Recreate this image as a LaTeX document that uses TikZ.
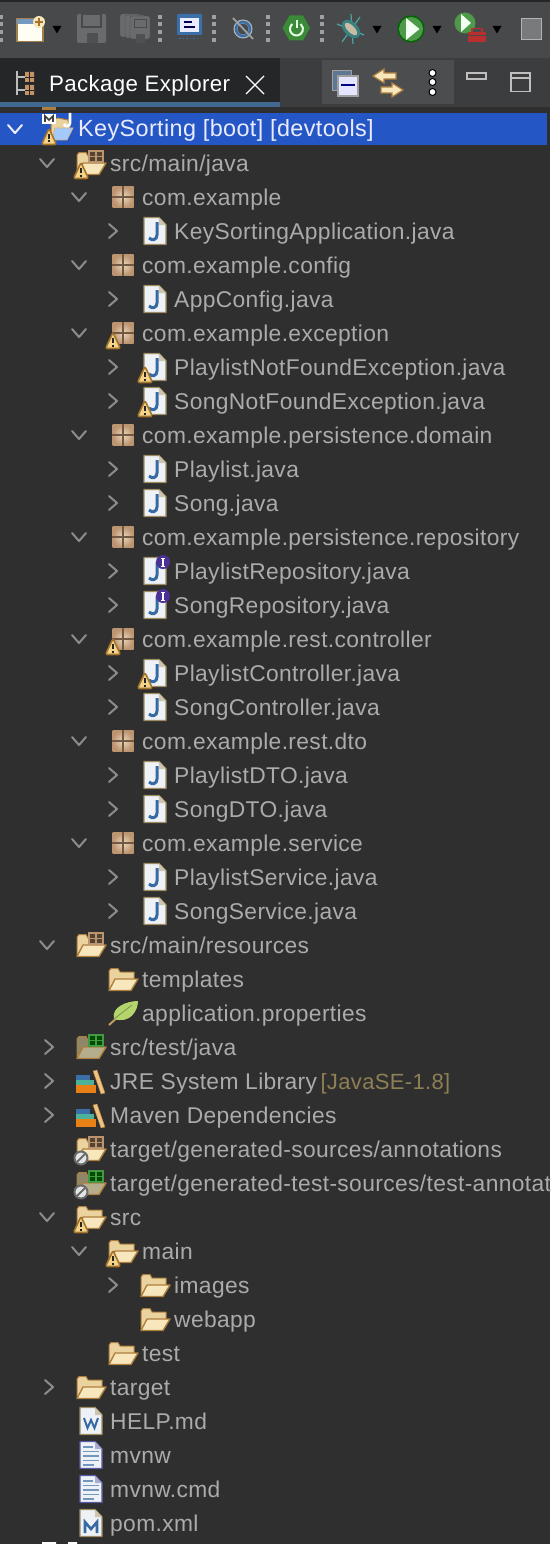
\documentclass[tikz,border=0pt]{standalone}
\usepackage{fontspec}
\setmainfont[LetterSpace=1.6]{Liberation Sans}
\usetikzlibrary{positioning,shapes.geometric}
\definecolor{treebg}{HTML}{2F2F2F}
\definecolor{barbg}{HTML}{47494B}
\definecolor{stripbg}{HTML}{3C3D3F}
\definecolor{panelbg}{HTML}{4B4D4F}
\definecolor{tabbg}{HTML}{252628}
\definecolor{tabline}{HTML}{41688F}
\definecolor{selblue}{HTML}{2457C5}
\definecolor{rowtext}{HTML}{ABABAB}
\definecolor{libtext}{HTML}{8F7F55}
\definecolor{chevcol}{HTML}{8C8C8C}
\definecolor{fldedge}{HTML}{AE7F3E}
\definecolor{fldback}{HTML}{EBD3A0}
\definecolor{fldfront}{HTML}{F8E6BC}
\definecolor{fldgback}{HTML}{8F8768}
\definecolor{fldgfront}{HTML}{B5AD8C}
\definecolor{pkgtan}{HTML}{BC9470}
\definecolor{pkggap}{HTML}{EBD8BC}
\definecolor{pageedge}{HTML}{9C8C5F}
\definecolor{pagefill}{HTML}{EEF2F7}
\definecolor{jblue}{HTML}{356AA2}
\definecolor{warnfill}{HTML}{F4D38A}
\definecolor{warnedge}{HTML}{A5742C}
\definecolor{gripcol}{HTML}{A0A0A0}
\definecolor{greyicon}{HTML}{6A6B6D}
\definecolor{leafgreen}{HTML}{B4D46C}
\definecolor{sprgreen}{HTML}{3A8A38}
\definecolor{rungreen}{HTML}{4F9A4A}
\definecolor{toolred}{HTML}{B8302E}
\definecolor{monblue}{HTML}{3A6FA8}
\definecolor{ifacepurple}{HTML}{4B3196}
\newcommand\fldr[2]{
  \path[fill=#1,draw=fldedge,line width=1pt,line join=round] (-14,10) -- (-14,-8) -- (-12,-10.5) -- (-5,-10.5) -- (-3,-7) -- (11,-7) -- (11,3) -- cycle;
  \path[fill=#2,draw=fldedge,line width=1.4pt,line join=round] (-14,11.5) -- (-8,0) -- (15,0) -- (8,11.5) -- cycle;
}
\newcommand\minipkg[2]{
  \fill[#1] (-2,-12) rectangle (12,-1);
  \draw[#2,line width=1.2pt] (-2,-12) rectangle (12,-1) (5,-12) -- (5,-1) (-2,-6.5) -- (12,-6.5);
}
\newcommand\pagebase[1][pageedge]{
  \path[fill=pagefill,draw=#1,line width=1.4pt,line join=round] (-11,-13.5) -- (4,-13.5) -- (11,-6) -- (11,13.5) -- (-11,13.5) -- cycle;
  \path[fill=#1!50] (4,-13.5) -- (4,-6) -- (11,-6) -- cycle;
}
\tikzset{
  rowlabel/.style={anchor=base west,inner sep=0pt,text=rowtext,font=\fontsize{22.8}{26}\selectfont},
  rowstyle0/.style={text=white!92!blue,font=\fontsize{23.4}{26}\selectfont},
  chevline/.style={draw=chevcol,line width=2pt,line cap=round,line join=round},
  grip/.style={fill=gripcol},
  none/.pic={},
  chevd/.pic={\draw[chevline] (-7,-4) -- (0,4) -- (7,-4);},
  chevw/.pic={\draw[chevline,draw=white!92!blue] (-7,-4) -- (0,4) -- (7,-4);},
  chevr/.pic={\draw[chevline] (-2,-7) -- (6,0) -- (-2,7);},
  folder/.pic={\fldr{fldback}{fldfront}},
  srcfolder/.pic={\fldr{fldback}{fldfront}\minipkg{pkgtan!45!black}{pkgtan}},
  testfolder/.pic={\fldr{fldgback}{fldgfront}\minipkg{green!30!black}{green!55!white!60!black}},
  pkgicon/.pic={
    \shade[inner color=pkggap,outer color=pkgtan] (-10.5,-10.5) rectangle (10.5,10.5);
    \draw[pkgtan!60!black,line width=1.3pt] (-11,0) -- (11,0) (0,-11) -- (0,11);
  },
  javaicon/.pic={\pagebase
    \draw[jblue,line width=3pt] (2,-9) -- (2,4) .. controls (2,9) and (-3,10) .. (-6,7);
  },
  texticon/.pic={\pagebase[gray!70!blue]
    \draw[jblue!70!white,line width=1.5pt] (-8,-8) -- (2,-8) (-8,-3.5) -- (8,-3.5) (-8,1) -- (8,1) (-8,5.5) -- (8,5.5) (-8,10) -- (3,10);
  },
  wordicon/.pic={\pagebase
    \draw[jblue,line width=2pt] (-7,-3) -- (-3.5,7) -- (0,-1) -- (3.5,7) -- (7,-3);
  },
  mvnicon/.pic={\pagebase
    \draw[jblue,line width=2.6pt] (-6,10) -- (-6,-1) -- (0,6) -- (6,-1) -- (6,10);
  },
  leaficon/.pic={
    \draw[fldedge!80!white,line width=2pt] (-14,12) -- (-3,2);
    \path[fill=leafgreen] (-9,6) .. controls (-12,-6) and (4,-12) .. (15,-12) .. controls (15,-2) and (7,11) .. (-9,6);
    \draw[leafgreen!70!black,line width=.8pt] (-9,6) -- (9,-8);
  },
  libicon/.pic={
    \fill[monblue] (-15,-6) rectangle (-1,-1);
    \fill[green!25!cyan!40!gray] (-15,-1) rectangle (3,4);
    \fill[orange!65!brown] (-15,4) rectangle (5,12);
    \path[fill=fldback!80!orange,draw=fldedge] (2,-10) -- (6,-11) -- (14,12) -- (10,13) -- cycle;
  },
  rooticon/.pic={
    \path[fill=fldback,draw=fldedge,line width=1pt] (-8,8) -- (-8,-9) -- (-1,-11) -- (9,-9) -- (12,3) -- cycle;
    \path[fill=white!75!blue!85!cyan,draw=fldedge!60!white,line width=.8pt] (-7,11) -- (-4,-1) -- (14,-1) -- (8,11) -- cycle;
    \fill[white] (-17,-15) rectangle (-3,-5);
    \draw[black!75,line width=1.6pt] (-14,-7) -- (-14,-13) -- (-10,-9) -- (-6,-13) -- (-6,-7);
    \draw[white,line width=2.6pt] (11,-16) -- (11,-6) .. controls (11,-2) and (6,-2) .. (5,-5);
  },
  warn/.pic={
    \path[fill=warnfill,draw=warnedge,line width=1.6pt,line join=round,rounded corners=2pt] (0,-8.5) -- (7.5,7.5) -- (-7.5,7.5) -- cycle;
    \draw[black!85,line width=2pt] (0,-3) -- (0,2) (0,3.5) -- (0,5.5);
  },
  stopbadge/.pic={
    \fill[white!90!black] (0,1) circle (6.5);
    \draw[greyicon,line width=2pt] (0,1) circle (6.5);
    \draw[greyicon,line width=2pt] (-4,5) -- (4,-3);
  },
  ibadge/.pic={
    \fill[ifacepurple] (18,-17) circle (7);
    \draw[white,line width=1.6pt] (18,-21) -- (18,-13);
    \draw[white,line width=1pt] (16,-21) -- (20,-21) (16,-13) -- (20,-13);
  },
}
\begin{document}
\begin{tikzpicture}[x=1pt,y=-1pt]
  \clip (0,0) rectangle (550,1544);
  % backgrounds
  \fill[treebg] (0,0) rectangle (550,1544);
  \fill[barbg] (0,0) rectangle (550,58);
  \fill[black!85] (0,0) rectangle (550,2);
  \fill[stripbg] (0,58) rectangle (550,107);
  \fill[tabbg] (0,58) rectangle (280,102);
  \fill[tabline] (0,102) rectangle (280,107);
  \fill[panelbg] (322,60) rectangle (454,104);
  \fill[selblue] (0,113) rectangle (547,145);
  % toolbar
  \foreach \gx in {1,160,214,268,322}
    \foreach \gy in {17,24.5,32,40}
      \fill[grip] (\gx-2,\gy-2) rectangle (\gx+2,\gy+2);
  \foreach \tx in {57,377,437,497}
    \fill[black] (\tx-4.5,26) -- (\tx+4.5,26) -- (\tx,33.5) -- cycle;
  \path[fill=white!95!yellow,draw=fldedge!80!gray,line width=1.5pt] (17,19) rectangle (43,41.5);
  \fill[monblue!70!white] (17,19) rectangle (34,24);
  \fill[fldfront] (39,22) circle (6);
  \draw[warnedge,line width=1.4pt] (39,18) -- (39,26) (35,22) -- (43,22);
  \fill[greyicon,rounded corners=2pt] (77,14) rectangle (106,43);
  \draw[barbg,line width=1.2pt] (82,14) rectangle (101,27);
  \fill[barbg!80!greyicon] (87,33) rectangle (98,43);
  \foreach \sx in {120,125,130}
    \path[fill=greyicon,draw=barbg,rounded corners=2pt] (\sx,\sx/5-10) rectangle (\sx+20,\sx/5+13);
  \draw[barbg,line width=1pt] (134,20) rectangle (146,28);
  \fill[barbg!80!greyicon] (136,34) rectangle (145,43);
  \path[fill=monblue,rounded corners=1pt] (177,14) rectangle (202,35);
  \fill[white!92!blue] (180,18) rectangle (199,32);
  \draw[black!70!blue,line width=1.5pt] (184,22) -- (192,22) (184,27) -- (195,27);
  \draw[monblue,line width=1.5pt,dotted] (179,38.5) -- (200,38.5);
  \draw[gripcol!80!white,line width=4pt] (243,29) circle (7.5);
  \draw[monblue,line width=2.6pt] (243,29) circle (7);
  \draw[gripcol,line width=1.8pt] (233,18) -- (253,39);
  \path[fill=sprgreen] (282.5,28) -- (289.5,15.5) -- (303,15.5) -- (310,28) -- (303,40.5) -- (289.5,40.5) -- cycle;
  \draw[white!90!green,line width=2pt] (292.3,24) arc[start angle=130,end angle=410,x radius=6.5pt,y radius=6.5pt];
  \draw[white!90!green,line width=2pt] (296.5,20) -- (296.5,28);
  \draw[teal!70!white,line width=1.2pt] (337,24) -- (364,35) (342,42) -- (360,17) (351,14) -- (353,44);
  \fill[teal!55!gray,rotate around={-45:(351,29)}] (351,29) ellipse (11 and 7);
  \fill[fldfront!60!gray,rotate around={-45:(351,29)}] (351,29) ellipse (8 and 3.5);
  \fill[green!40!black] (411,29) circle (13.5);
  \fill[rungreen] (411,29) circle (12);
  \fill[white!95!green] (406,18) -- (419.5,29) -- (406,40) -- cycle;
  \fill[rungreen] (465,23) circle (10.5);
  \fill[white!95!green] (461,14) -- (471,23) -- (461,32) -- cycle;
  \fill[toolred] (468,32) rectangle (486,42);
  \draw[toolred,line width=1.6pt] (472,32) -- (472,28.5) -- (482,28.5) -- (482,32);
  \draw[barbg,line width=1pt] (468,36) -- (486,36);
  \fill[greyicon!90!white] (521,18) rectangle (542,40);
  \draw[gripcol!80!white,line width=1.2pt] (521.5,18.5) rectangle (541.5,39.5);
  % tab and view buttons
  \node[anchor=base west,inner sep=0pt,text=white,font=\fontsize{22.3}{25}\selectfont] (tabtitle) at (49,92) {Package Explorer};
  \draw[white,line width=1.3pt] (246,76) -- (264,94) (264,76) -- (246,94);
  \draw[gripcol!70!white,line width=1.2pt] (17,71) -- (17,95) (17,77) -- (25,77) (17,90) -- (25,90);
  \fill[pkgtan!90!orange] (25,72) rectangle (34,82) (25,85) rectangle (34,95);
  \draw[tabbg,line width=.8pt] (29.5,72) -- (29.5,82) (25,77) -- (34,77) (29.5,85) -- (29.5,95) (25,90) -- (34,90);
  \path[fill=monblue!50!gray,draw=gripcol] (332,70) rectangle (351,90);
  \path[fill=white!90!blue,draw=gripcol,line width=1.2pt] (338,76) rectangle (358,96);
  \draw[blue!50!black,line width=2pt] (341,85) -- (355,85);
  \path[fill=fldfront,draw=fldedge,line width=1.2pt] (373,76) -- (384,69) -- (384,73) -- (396,73) -- (396,79) -- (384,79) -- (384,83) -- cycle;
  \path[fill=fldfront,draw=fldedge,line width=1.2pt] (403,90) -- (392,83) -- (392,87) -- (381,87) -- (381,93) -- (392,93) -- (392,97) -- cycle;
  \foreach \dy in {73,82,92}
    \path[fill=white,draw=black,line width=1pt] (432.5,\dy) circle (3.5);
  \draw[white!75!black,line width=1.3pt] (467,73) rectangle (486,79);
  \draw[white!75!black,line width=1.3pt] (511,73) rectangle (530,91.5) (511,78) -- (530,78);
  % scrolled-off row ends
  \fill[fldedge] (42,107) rectangle (56,110);
  \fill[white] (42,1542) rectangle (56,1544) (68,1542) rectangle (77,1544);
  % tree rows: indent level / chevron / icon / badge / text
  \foreach \lvl/\chev/\ico/\badge/\txt [count=\rowno from 0] in {
    0/chevw/rooticon/warn/{KeySorting [boot] [devtools]},
    1/chevd/srcfolder/warn/{src/main/java},
    2/chevd/pkgicon/none/{com.example},
    3/chevr/javaicon/none/{KeySortingApplication.java},
    2/chevd/pkgicon/none/{com.example.config},
    3/chevr/javaicon/none/{AppConfig.java},
    2/chevd/pkgicon/warn/{com.example.exception},
    3/chevr/javaicon/warn/{PlaylistNotFoundException.java},
    3/chevr/javaicon/warn/{SongNotFoundException.java},
    2/chevd/pkgicon/none/{com.example.persistence.domain},
    3/chevr/javaicon/none/{Playlist.java},
    3/chevr/javaicon/none/{Song.java},
    2/chevd/pkgicon/none/{com.example.persistence.repository},
    3/chevr/javaicon/ibadge/{PlaylistRepository.java},
    3/chevr/javaicon/ibadge/{SongRepository.java},
    2/chevd/pkgicon/warn/{com.example.rest.controller},
    3/chevr/javaicon/warn/{PlaylistController.java},
    3/chevr/javaicon/none/{SongController.java},
    2/chevd/pkgicon/none/{com.example.rest.dto},
    3/chevr/javaicon/none/{PlaylistDTO.java},
    3/chevr/javaicon/none/{SongDTO.java},
    2/chevd/pkgicon/none/{com.example.service},
    3/chevr/javaicon/none/{PlaylistService.java},
    3/chevr/javaicon/none/{SongService.java},
    1/chevd/srcfolder/none/{src/main/resources},
    2/none/folder/none/{templates},
    2/none/leaficon/none/{application.properties},
    1/chevr/testfolder/none/{src/test/java},
    1/chevr/libicon/none/{JRE System Library},
    1/chevr/libicon/none/{Maven Dependencies},
    1/none/srcfolder/stopbadge/{target/generated-sources/annotations},
    1/none/testfolder/stopbadge/{target/generated-test-sources/test-annotations},
    1/chevd/folder/warn/{src},
    2/chevd/folder/warn/{main},
    3/chevr/folder/none/{images},
    3/none/folder/none/{webapp},
    2/none/folder/none/{test},
    1/chevr/folder/none/{target},
    1/none/wordicon/none/{HELP.md},
    1/none/texticon/none/{mvnw},
    1/none/texticon/none/{mvnw.cmd},
    1/none/mvnicon/none/{pom.xml}} {
    \pgfmathsetmacro\rowy{129+34*\rowno}
    \pgfmathsetmacro\textx{78+32*\lvl}
    \pic at (\textx-63,\rowy) {\chev};
    \pic at (\textx-19,\rowy) {\ico};
    \pic at (\textx-29,\rowy+8) {\badge};
    \node[rowlabel,rowstyle\rowno/.try] (row\rowno) at (\textx,\rowy+8) {\txt};
  }
  \node[right=3pt of row28.base east,anchor=base west,rowlabel,text=libtext,font=\fontsize{22}{25}\selectfont] (jrever) {[JavaSE-1.8]};
\end{tikzpicture}
\end{document}
